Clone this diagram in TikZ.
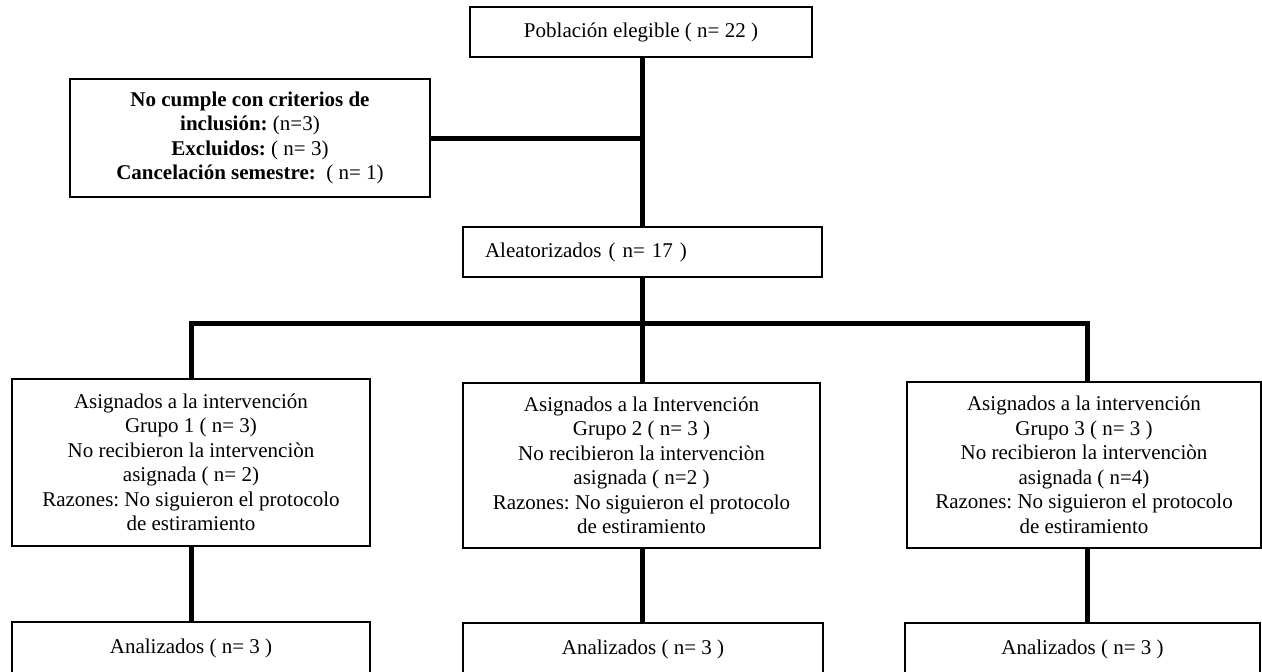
\documentclass[tikz,border=0pt]{standalone}
\usepackage{fontspec}
\setmainfont{Liberation Serif}
\frenchspacing
\begin{document}
\begin{tikzpicture}[x=1pt,y=-1pt,
  box/.style={draw=black, fill=white, line width=2.6pt, inner sep=0pt, align=center, font=\fontsize{21}{24.5}\selectfont},
  conn/.style={line width=5pt}]
\useasboundingbox (0,0) rectangle (1262,672);
\clip (0,0) rectangle (1262,672);
\fill[white] (0,0) rectangle (1262,672);
\coordinate (bm) at (642,323);
\coordinate (br) at (1087,323);
% nodes
\node[box, minimum width=342pt, minimum height=50pt] (pop) at (641,32) {Población elegible ( n= 22 )};
\node[box, minimum width=360pt, minimum height=118pt] (exc) at (250,138)
  {\textbf{No cumple con criterios de}\\ \textbf{inclusión:} (n=3)\\ \textbf{Excluidos:} ( n= 3)\\ \textbf{Cancelación semestre:}\ \ ( n= 1)};
\node[box, minimum width=359pt, minimum height=50pt, text width=315pt, align=left, inner xsep=22pt] (ale) at (642.5,252) {Aleatorizados ( n= 17 )};
\node[box, minimum width=358pt, minimum height=167pt] (g1) at (191,462.5)
  {Asignados a la intervención\\Grupo 1 ( n= 3)\\No recibieron la intervenciòn\\asignada ( n= 2)\\Razones: No siguieron el protocolo\\de estiramiento};
\node[box, minimum width=357pt, minimum height=165pt] (g2) at (641.5,465.5)
  {Asignados a la Intervención\\Grupo 2 ( n= 3 )\\No recibieron la intervenciòn\\asignada ( n=2 )\\Razones: No siguieron el protocolo\\de estiramiento};
\node[box, minimum width=354pt, minimum height=166pt] (g3) at (1084,465)
  {Asignados a la intervención\\Grupo 3 ( n= 3 )\\No recibieron la intervenciòn\\asignada ( n=4)\\Razones: No siguieron el protocolo\\de estiramiento};
\node[box, minimum width=358pt, minimum height=52pt] (a1) at (191,648) {Analizados ( n= 3 )};
\node[box, minimum width=360pt, minimum height=52pt] (a2) at (643,649) {Analizados ( n= 3 )};
\node[box, minimum width=355pt, minimum height=52pt] (a3) at (1082.5,649) {Analizados ( n= 3 )};
% connectors
\draw[conn] (pop.south -| bm) -- (ale.north -| bm);
\draw[conn] (exc.east) -- (exc.east -| bm);
\draw[conn] (ale.south -| bm) -- (bm);
\draw[conn] (g1.north) |- (br) -- (br |- g3.north);
\draw[conn] (bm) -- (g2.north -| bm);
\draw[conn] (g1.south) -- (a1.north);
\draw[conn] (g2.south -| bm) -- (a2.north -| bm);
\draw[conn] (g3.south -| br) -- (a3.north -| br);
\end{tikzpicture}
\end{document}
